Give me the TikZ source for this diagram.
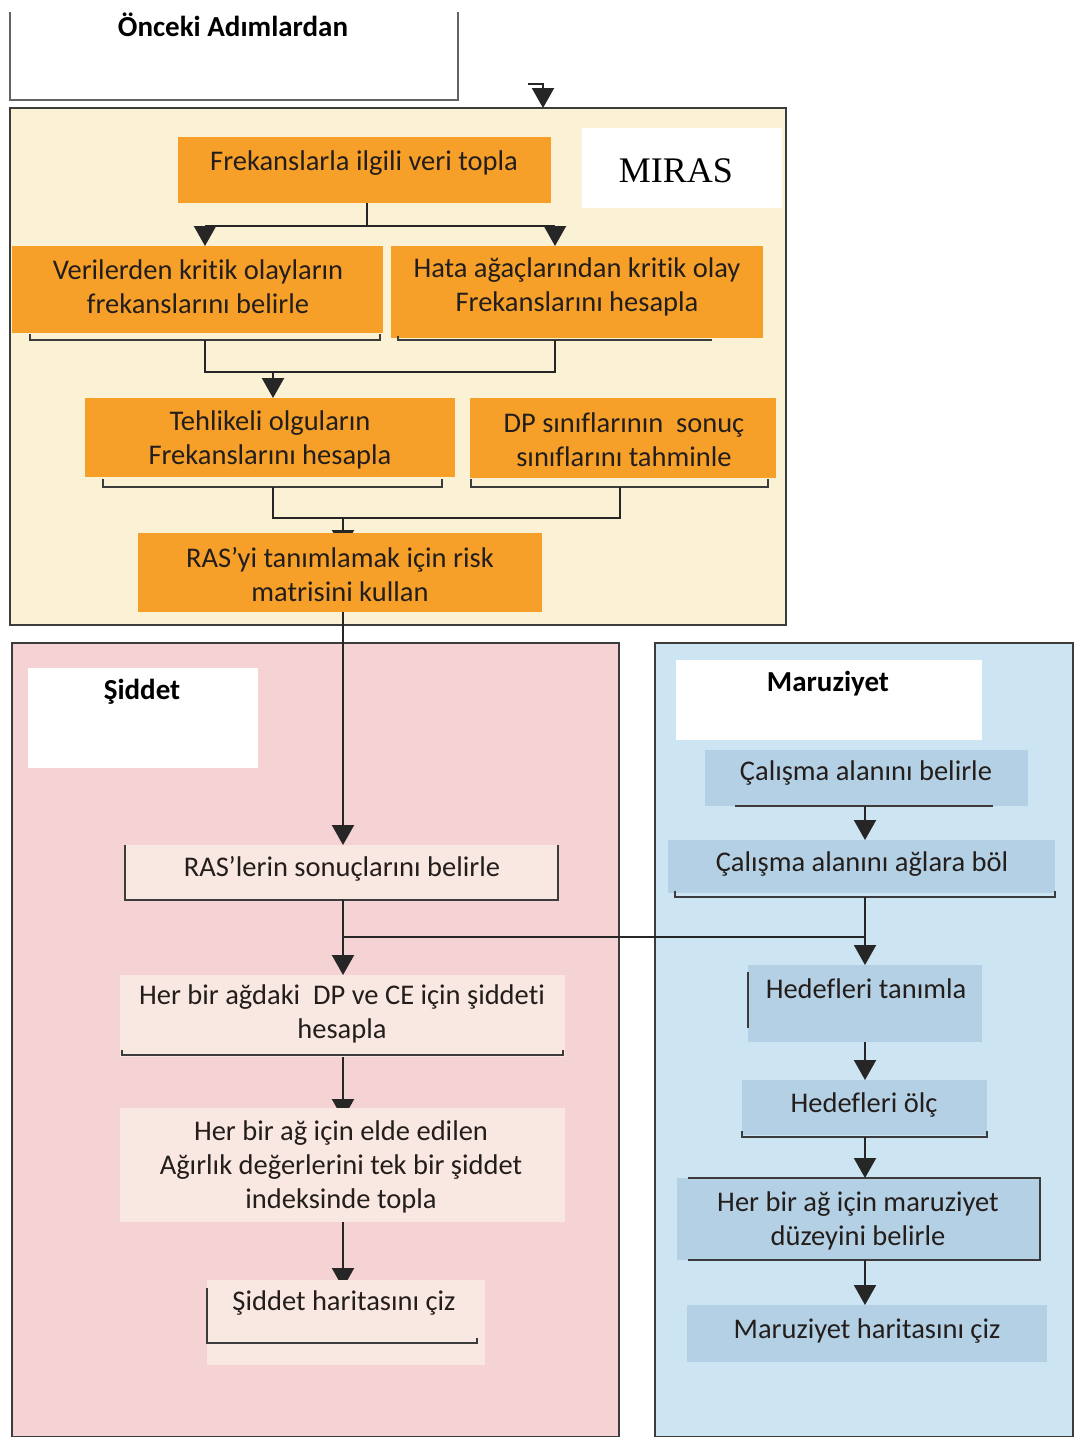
\documentclass[tikz,border=0pt]{standalone}
\usepackage{fontspec}
\setmainfont{Carlito}[Ligatures=NoCommon]
\newfontfamily\titleserif{Liberation Serif}
\usetikzlibrary{arrows.meta}
\pgfdeclarelayer{back}
\pgfdeclarelayer{mid}
\pgfsetlayers{back,mid,main}

\definecolor{cream}{RGB}{251,242,214}
\definecolor{orng}{RGB}{246,160,42}
\definecolor{pinkpanel}{RGB}{245,210,212}
\definecolor{pinkbox}{RGB}{249,231,226}
\definecolor{bluepanel}{RGB}{205,229,243}
\definecolor{bluebox}{RGB}{180,208,228}
\definecolor{ink}{RGB}{35,30,28}
\definecolor{edge}{RGB}{60,60,60}

\begin{document}
\begin{tikzpicture}[x=1pt,y=-1pt,
  panel/.style={rectangle,draw=edge,line width=2pt,inner sep=0pt,outer sep=0pt},
  blockbox/.style={rectangle,inner sep=0pt,outer sep=0pt},
  obox/.style={blockbox,fill=orng},
  pbox/.style={blockbox,fill=pinkbox},
  bbox/.style={blockbox,fill=bluebox},
  wbox/.style={blockbox,fill=white},
  txt/.style={align=center,text=ink,inner sep=0pt,font=\fontsize{28.5}{34}\selectfont},
  head/.style={align=center,text=black,inner sep=0pt,font=\fontsize{29}{34}\selectfont\bfseries},
  conn/.style={draw=black!85,line width=2.2pt},
  flow/.style={conn,-{Triangle[width=22pt,length=20pt]}},
  brk/.style={draw=edge,line width=2pt}
]
\useasboundingbox (0,0) rectangle (1076,1437);

% ---------- panels ----------
\begin{pgfonlayer}{back}
  \node[panel,fill=cream,minimum width=776pt,minimum height=517pt] (miras) at (398,366.5) {};
  \node[panel,fill=pinkpanel,minimum width=607pt,minimum height=794pt] (siddet) at (315.5,1040) {};
  \node[panel,fill=bluepanel,minimum width=418pt,minimum height=794pt] (maruz) at (864,1040) {};
\end{pgfonlayer}

% previous steps frame
\draw[brk,draw=edge!80] (10,12) -- (10,100) -- (458,100) -- (458,12);
\node[head] (onceki) at (233,25) {Önceki Adımlardan};

% ---------- MIRAS ----------
\node[wbox,minimum width=200pt,minimum height=80pt] (mlabel) at (682,168) {};
\node[inner sep=0pt,font=\fontsize{36}{42}\selectfont\titleserif] (mtitle) at (676,171) {MIRAS};

\node[obox,minimum width=373pt,minimum height=66pt] (b1) at (364.5,170) {};
\node[obox,minimum width=371pt,minimum height=87pt] (b2) at (197.5,289.5) {};
\node[obox,minimum width=372pt,minimum height=92pt] (b3) at (577,292) {};
\node[obox,minimum width=370pt,minimum height=79pt] (b4) at (270,437.5) {};
\node[obox,minimum width=306pt,minimum height=80pt] (b5) at (623,438) {};
\node[obox,minimum width=404pt,minimum height=79pt] (b6) at (340,572.5) {};

\node[txt] (t1) at (364,163) {Frekanslarla ilgili veri topla};
\node[txt] (t2) at (198,287) {Verilerden kritik olayların\\frekanslarını belirle};
\node[txt] (t3) at (577,287) {Hata ağaçlarından kritik olay\\Frekanslarını hesapla};
\node[txt] (t4) at (270,440) {Tehlikeli olguların\\Frekanslarını hesapla};
\node[txt] (t5) at (624,440) {DP sınıflarının~~sonuç\\sınıflarını tahminle};
\node[txt] (t6) at (340,575) {RAS’yi tanımlamak için risk\\matrisini kullan};

% brackets under the orange boxes
\draw[brk] (30,334) -- (30,340) -- (380,340) -- (380,334);
\draw[brk] (398,336) -- (398,340) -- (712,340);
\draw[brk] (103,479) -- (103,487) -- (442,487) -- (442,479);
\draw[brk] (471,479) -- (471,487) -- (768,487) -- (768,479);

% ---------- Şiddet ----------
\node[wbox,minimum width=230pt,minimum height=100pt] (slabel) at (143,718) {};
\node[head] (stitle) at (142,692) {Şiddet};

\node[pbox,minimum width=433pt,minimum height=55pt] (c1) at (341.5,872.5) {};
\node[pbox,minimum width=445pt,minimum height=82pt] (c2) at (342.5,1016) {};
\node[pbox,minimum width=445pt,minimum height=114pt] (c3) at (342.5,1165) {};
\node[pbox,minimum width=278pt,minimum height=85pt] (c4) at (346,1322.5) {};

\node[txt] (u1) at (342,869) {RAS’lerin sonuçlarını belirle};
\node[txt] (u2) at (342,1014) {Her bir ağdaki~~DP ve CE için şiddeti\\hesapla};
\node[txt] (u3) at (341,1167) {Her bir ağ için elde edilen\\Ağırlık değerlerini tek bir şiddet\\indeksinde topla};
\node[txt] (u4) at (344,1303) {Şiddet haritasını çiz};

\draw[brk] (125,845) -- (125,900) -- (558,900) -- (558,845);
\draw[brk] (122,1050) -- (122,1055) -- (563,1055) -- (563,1050);
\draw[brk] (207,1288) -- (207,1343) -- (477,1343) -- (477,1338);

% ---------- Maruziyet ----------
\node[wbox,minimum width=306pt,minimum height=80pt] (xlabel) at (829,700) {};
\node[head] (xtitle) at (828,684) {Maruziyet};

\node[bbox,minimum width=323pt,minimum height=56pt] (d1) at (866.5,778) {};
\node[bbox,minimum width=387pt,minimum height=53pt] (d2) at (861.5,866.5) {};
\node[bbox,minimum width=234pt,minimum height=77pt] (d3) at (865,1003.5) {};
\node[bbox,minimum width=245pt,minimum height=55pt] (d4) at (864.5,1107.5) {};
\node[bbox,minimum width=363pt,minimum height=82pt] (d5) at (858.5,1219) {};
\node[bbox,minimum width=360pt,minimum height=57pt] (d6) at (867,1333.5) {};

\node[txt] (v1) at (866,773) {Çalışma alanını belirle};
\node[txt] (v2) at (862,864) {Çalışma alanını ağlara böl};
\node[txt] (v3) at (866,989) {Hedefleri tanımla};
\node[txt] (v4) at (864,1105) {Hedefleri ölç};
\node[txt] (v5) at (858,1221) {Her bir ağ için maruziyet\\düzeyini belirle};
\node[txt] (v6) at (867,1331) {Maruziyet haritasını çiz};

\draw[brk] (735,806) -- (993,806);
\draw[brk] (675,891) -- (675,897) -- (1055,897) -- (1055,891);
\draw[brk] (748,972) -- (748,1028);
\draw[brk] (742,1131) -- (742,1137) -- (987,1137) -- (987,1131);
\draw[brk] (688,1178) -- (1040,1178) -- (1040,1260) -- (688,1260);

% ---------- connectors ----------
\coordinate (in0) at (528,84);
\draw[flow] (in0) -| (miras.north -| 543,0);

\coordinate (j1) at (367,226);
\coordinate (j1l) at (205,226);
\coordinate (j1r) at (555,226);
\draw[conn] (b1.south -| j1) -- (j1);
\draw[conn] (j1l) -- (j1r);
\draw[flow] (j1l) -- (b2.north -| j1l);
\draw[flow] (j1r) -- (b3.north -| j1r);

\coordinate (j2l) at (205,372);
\coordinate (j2r) at (555,372);
\coordinate (j2) at (273,372);
\draw[conn] (205,340) -- (j2l) -- (j2r) -- (555,340);
\draw[flow] (j2) -- (b4.north -| j2);

\coordinate (j3l) at (273,518);
\coordinate (j3r) at (620,518);
\coordinate (j3) at (343,518);
\draw[conn] (273,487) -- (j3l) -- (j3r) -- (620,487);
\begin{pgfonlayer}{mid}
  \draw[flow] (j3) -- ([yshift=-17pt]b6.north -| j3);
\end{pgfonlayer}

\coordinate (k0) at (343,0);
\draw[flow] (b6.south -| k0) -- (c1.north -| k0);

\coordinate (j4) at (343,937);
\coordinate (j5) at (865,937);
\draw[flow] (c1.south -| k0) -- (c2.north -| k0);
\draw[conn] (j4) -- (j5);
\draw[flow] (865,897) -- (d3.north -| j5);

\begin{pgfonlayer}{mid}
  \draw[flow] (c2.south -| k0) -- ([yshift=-11pt]c3.north -| k0);
  \draw[flow] (c3.south -| k0) -- ([yshift=-8pt]c4.north -| k0);
\end{pgfonlayer}

\coordinate (m0) at (865,0);
\draw[flow] (d1.south -| m0) -- (d2.north -| m0);
\draw[flow] (d3.south -| m0) -- (d4.north -| m0);
\draw[flow] (865,1137) -- (d5.north -| m0);
\draw[flow] (d5.south -| m0) -- (d6.north -| m0);
\end{tikzpicture}
\end{document}
